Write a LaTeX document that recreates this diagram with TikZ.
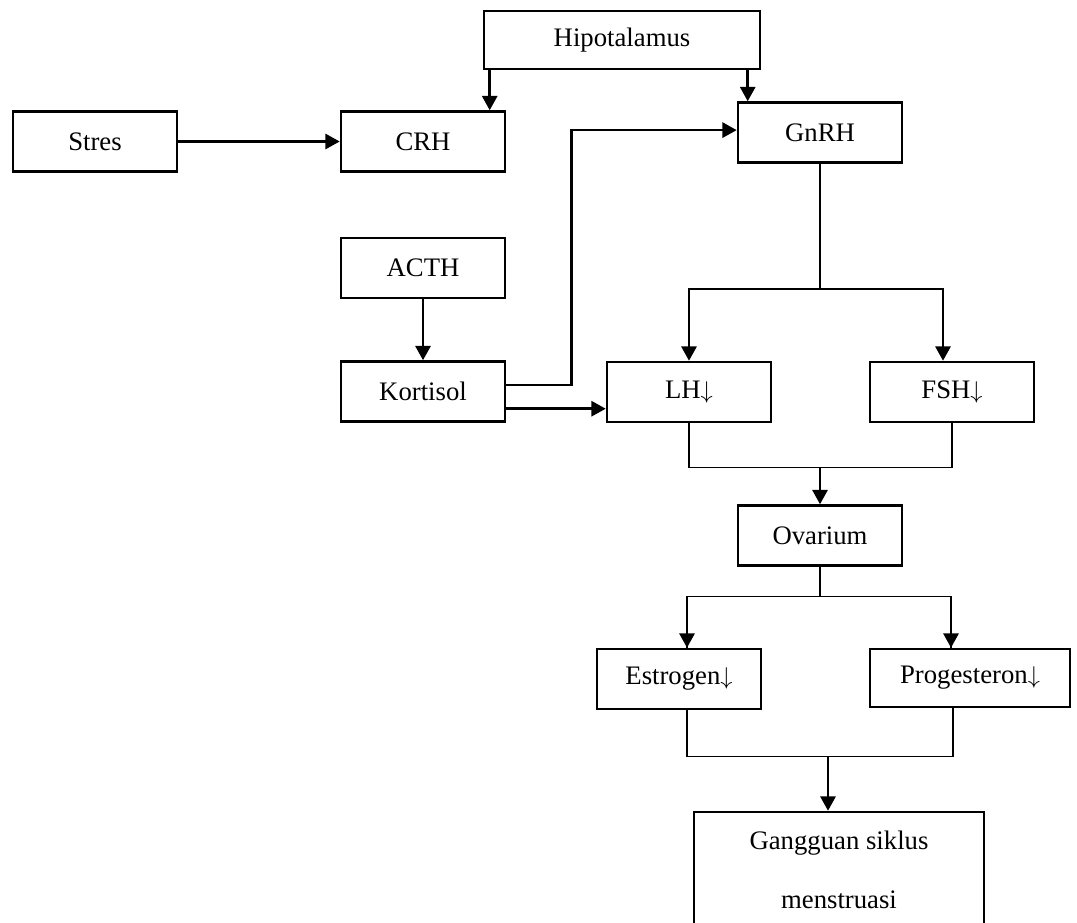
\documentclass[tikz,border=0pt]{standalone}
\usepackage{fontspec}
\setmainfont{Liberation Serif}
\usepackage{tikz}
\usetikzlibrary{positioning,arrows.meta}

\begin{document}
\begin{tikzpicture}[x=0.025cm, y=-0.025cm,
  kt/.style={rectangle, draw, line width=1.8pt, minimum width=4.1cm, minimum height=1.5cm,
             inner sep=2pt, font=\fontsize{19}{23}\selectfont},
  panah/.style={line width=1.8pt, -{Triangle[length=0.36cm, width=0.38cm]}},
  garis/.style={line width=1pt}]

\useasboundingbox (0,0) rectangle (1077,922);

% ── hipotalamus, stres, CRH, GnRH ──
\node[kt, minimum width=6.9cm, minimum height=1.45cm] (hipo) at (622,40) {Hipotalamus};
\node[kt] (stres) at (95,141.5) {Stres};
\node[kt] (crh) at (423,141.5) {CRH};
\node[kt] (gnrh) at (820,132.5) {GnRH};

% ── ACTH, kortisol, LH, FSH ──
\node[kt] (acth) at (423,268) {ACTH};
\node[kt] (kort) at (423,391.5) {Kortisol};
\node[kt] (lh) at (689,392) {LH$\downarrow$};
\node[kt] (fsh) at (952,392) {FSH$\downarrow$};

% ── ovarium dan hormon ──
\node[kt] (ov) at (820,535.5) {Ovarium};
\node[kt] (es) at (679,679) {Estrogen$\downarrow$};
\node[kt, minimum width=5cm, minimum height=1.45cm] (pr) at (970,678) {Progesteron$\downarrow$};
\node[kt, minimum width=7.25cm, minimum height=2.9cm, align=center] (gg) at (839,870)
  {Gangguan siklus\\[19pt]menstruasi};

% ── panah ──
\draw[panah] (stres) -- (crh);
\draw[panah] ([xshift=0.175cm]hipo.south west) -- ([xshift=0.175cm]hipo.south west |- crh.north);
\draw[panah] ([xshift=0.275cm]gnrh.north west |- hipo.south) -- ([xshift=0.275cm]gnrh.north west);
\draw[panah] (acth) -- (kort);
\draw[panah] ([yshift=0.16cm]kort.east) -- ++(65,0) |- ([yshift=0.06cm]gnrh.west);
\draw[panah] ([yshift=-0.43cm]kort.east) -- ([yshift=-0.43cm]kort.east -| lh.west);

% GnRH ke LH dan FSH
\draw[garis] (gnrh.south) -- ++(0,125) coordinate (g1);
\draw[panah] (g1) -| (lh.north);
\draw[panah] (g1) -| ([xshift=-0.225cm]fsh.north);

% LH dan FSH ke ovarium
\draw[garis] (lh.south) -- ++(0,44) coordinate (g2) -| (fsh.south);
\draw[panah] (g2 -| ov.north) -- (ov.north);

% ovarium ke estrogen dan progesteron
\draw[garis] (ov.south) -- ++(0,30) coordinate (g3);
\draw[garis] (g3) -| ([xshift=0.2cm]es.north);
\draw[garis] (g3) -| ([xshift=-0.475cm]pr.north);
\draw[panah] ([xshift=0.2cm]es.north |- g3) -- ([xshift=0.2cm]es.north);
\draw[panah] ([xshift=-0.475cm]pr.north |- g3) -- ([xshift=-0.475cm]pr.north);

% estrogen dan progesteron ke gangguan siklus
\draw[garis] ([xshift=0.2cm]es.south) -- ++(0,46) coordinate (g4) -| ([xshift=-0.425cm]pr.south);
\draw[panah] ([xshift=-0.275cm]gg.north |- g4) -- ([xshift=-0.275cm]gg.north);

\end{tikzpicture}
\end{document}
